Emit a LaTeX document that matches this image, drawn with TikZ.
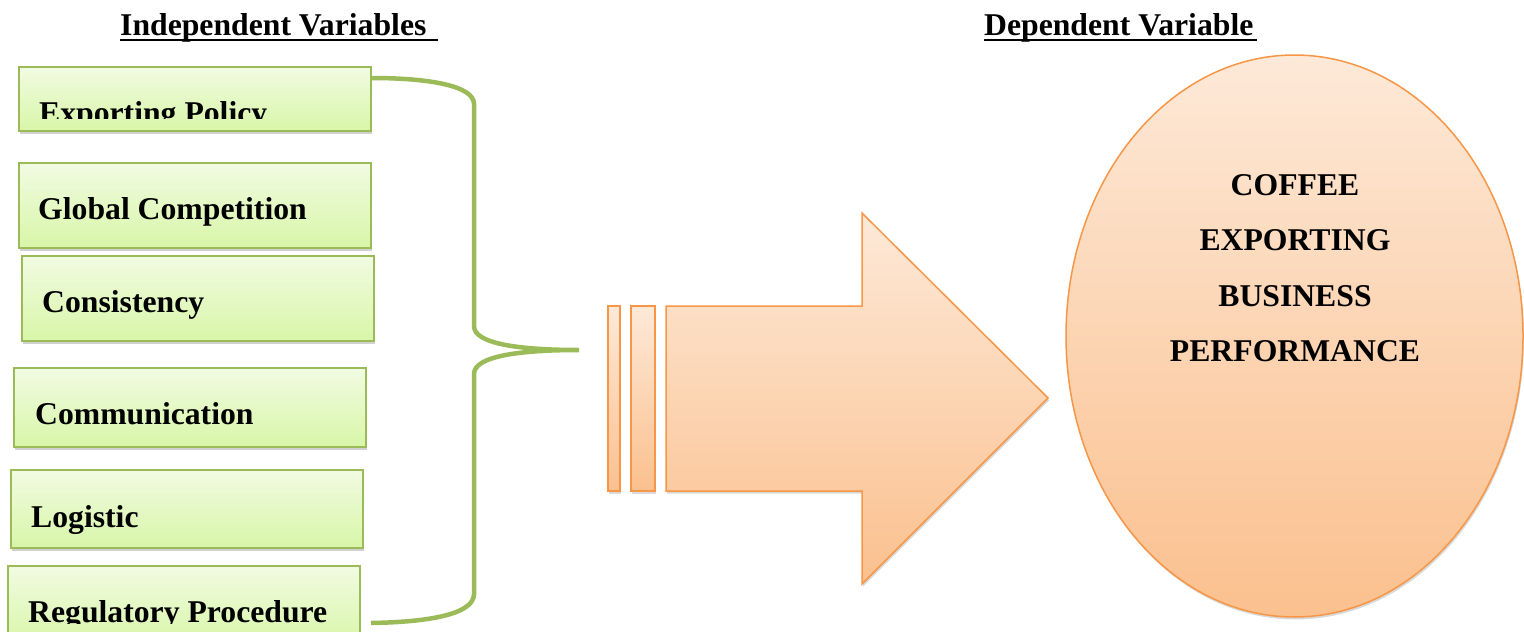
\documentclass[tikz,border=0pt]{standalone}
\usepackage{fontspec}
\setmainfont{Liberation Serif}
\usetikzlibrary{shapes.geometric,shadows}
\definecolor{gborder}{HTML}{9BBB59}
\definecolor{gtop}{HTML}{F1FBE2}
\definecolor{gbot}{HTML}{D8F6A8}
\definecolor{oborder}{HTML}{F79646}
\definecolor{otop}{HTML}{FDE9D8}
\definecolor{obot}{HTML}{FBC08E}
\tikzset{
  varbox/.style={draw=gborder, line width=1.5pt, top color=gtop, bottom color=gbot,
    minimum width=352pt, anchor=north west, inner sep=0pt,
    drop shadow={shadow xshift=1.5pt, shadow yshift=-3pt, opacity=0.3, fill=black!60}},
  vtxt/.style={font=\fontsize{31.7}{38}\selectfont\bfseries, anchor=base west, inner sep=0pt},
  ctxt/.style={font=\fontsize{31.7}{38}\selectfont\bfseries, anchor=base, inner sep=0pt},
  brace/.style={draw=gborder, line width=4.5pt},
  orange/.style={draw=oborder, line width=1.5pt, top color=otop, bottom color=obot,
    drop shadow={shadow xshift=1pt, shadow yshift=-2.5pt, opacity=0.25, fill=black!60}},
}
\begin{document}
\begin{tikzpicture}[x=1pt,y=-1pt]
\clip (0,0) rectangle (1524,632);
\useasboundingbox (0,0) rectangle (1524,632);
% headings
\node[vtxt] (ind) at (120,35) {Independent Variables};
\draw[line width=2pt] (120,40) -- (438,40);
\node[vtxt] (dep) at (984,35) {Dependent Variable};
\draw[line width=2pt] (984,40) -- (1257,40);
% boxes
\node[varbox, minimum height=64pt] (b1) at (18,66) {};
\node[varbox, minimum height=85pt] (b2) at (18,162) {};
\node[varbox, minimum height=85pt] (b3) at (21,255) {};
\node[varbox, minimum height=79pt] (b4) at (13,367) {};
\node[varbox, minimum height=78pt] (b5) at (10,469) {};
\node[varbox, minimum height=80pt] (b6) at (7,565) {};
\begin{scope}
\clip (18,66) rectangle (370,118.5);
\node[vtxt] (t1) at (39,123) {Exporting Policy};
\end{scope}
\node[vtxt] (t2) at (38,219) {Global Competition};
\node[vtxt] (t3) at (42,312) {Consistency};
\node[vtxt] (t4) at (35,424) {Communication};
\node[vtxt] (t5) at (31,527) {Logistic};
\begin{scope}
\clip (7,565) rectangle (359,623);
\node[vtxt] (t6) at (28,622) {Regulatory Procedure};
\end{scope}
% brace
\coordinate (tip) at (579,350);
\coordinate (bend) at (371,623);
\draw[brace] (b1.north east |- 0,78) .. controls (430,78) and (474,86) .. (474,104)
  -- (474,326) .. controls (474,344) and (520,350) .. (tip)
  .. controls (520,350) and (474,356) .. (474,374)
  -- (474,594) .. controls (474,614) and (430,622) .. (bend);
% striped arrow
\draw[orange] (608,306) rectangle (620,491);
\draw[orange] (631,306) rectangle (655,491);
\draw[orange] (666,306) -- (862,306) -- (862,213) -- (1048,398) -- (862,584) -- (862,491) -- (666,491) -- cycle;
% dependent variable
\node[ellipse, orange, minimum width=457pt, minimum height=562pt, inner sep=0pt] (dv) at (1294.5,336) {};
\node[ctxt] (c1) at (1295,195) {COFFEE};
\node[ctxt] (c2) at (1295,250.5) {EXPORTING};
\node[ctxt] (c3) at (1295,306) {BUSINESS};
\node[ctxt] (c4) at (1295,361) {PERFORMANCE};
\end{tikzpicture}
\end{document}
